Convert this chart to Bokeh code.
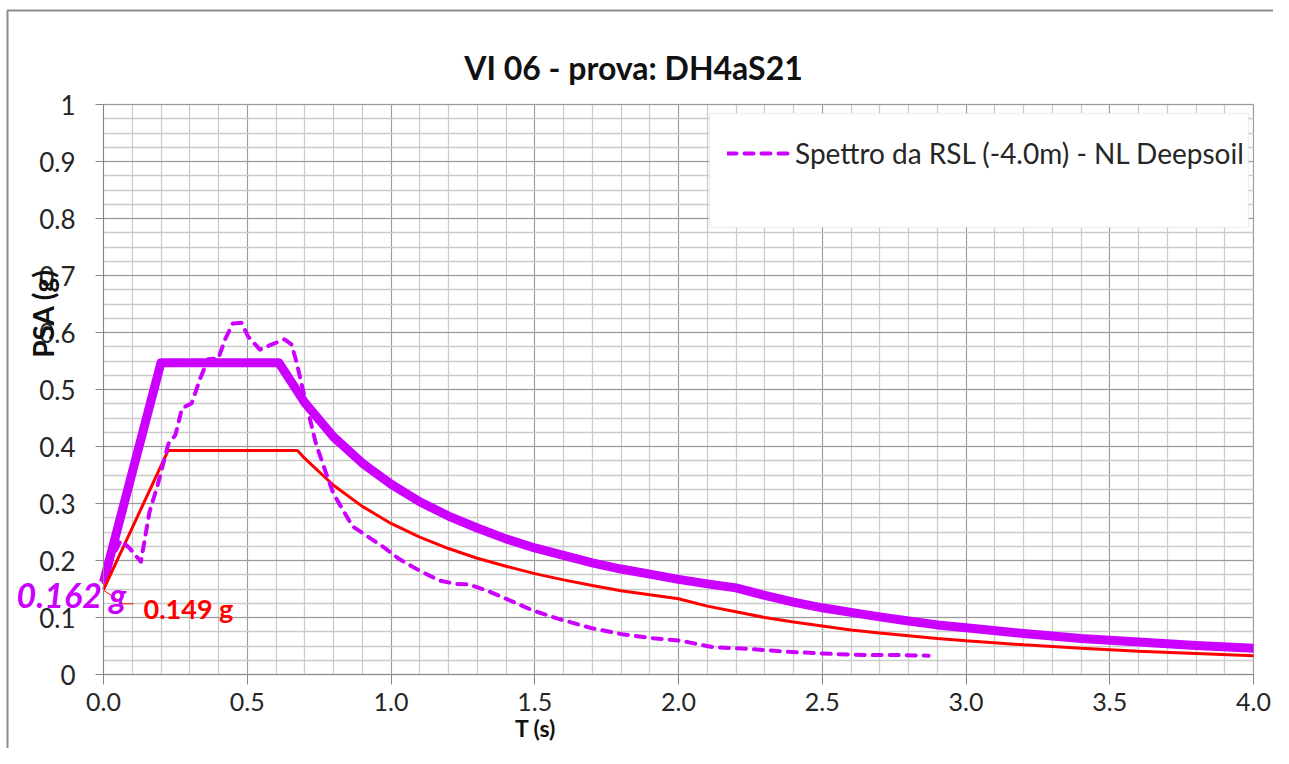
import numpy as np
from bokeh.plotting import figure
from bokeh.models import (FixedTicker, Label, Legend, LegendItem, BoxAnnotation)
from bokeh.embed import file_html
from bokeh.resources import INLINE

# ---------------- data ----------------
title_text = "VI 06 - prova: DH4aS21"
legend_label = "Spettro da RSL (-4.0m) - NL Deepsoil"
x_title = "T (s)"
y_title = "PSA (g)"
pga_thick_label = "0.162 g"
pga_red_label = "0.149 g"

# thick purple spectrum
T_thick = [0.0, 0.2, 0.61, 0.7, 0.8, 0.9, 1.0, 1.1, 1.2, 1.3, 1.4, 1.5, 1.6, 1.7, 1.8,
           1.9, 2.0, 2.1, 2.2, 2.3, 2.4, 2.5, 2.6, 2.7, 2.8, 2.9, 3.0, 3.2, 3.4, 3.6, 3.8, 4.0]
PSA_thick = [0.162, 0.547, 0.547, 0.477, 0.417, 0.371, 0.334, 0.303, 0.278, 0.257, 0.238,
             0.222, 0.209, 0.196, 0.185, 0.176, 0.167, 0.159, 0.152, 0.139, 0.127, 0.117,
             0.109, 0.101, 0.094, 0.087, 0.082, 0.072, 0.063, 0.057, 0.051, 0.046]

# red spectrum
T_red = [0.0, 0.225, 0.675, 0.7, 0.8, 0.9, 1.0, 1.1, 1.2, 1.3, 1.4, 1.5, 1.6, 1.7, 1.8,
         1.9, 2.0, 2.1, 2.2, 2.3, 2.4, 2.5, 2.6, 2.7, 2.8, 2.9, 3.0, 3.2, 3.4, 3.6, 3.8, 4.0]
PSA_red = [0.149, 0.393, 0.393, 0.379, 0.332, 0.295, 0.265, 0.241, 0.221, 0.204, 0.190,
           0.177, 0.166, 0.156, 0.147, 0.140, 0.133, 0.120, 0.110, 0.100, 0.092, 0.085,
           0.078, 0.073, 0.068, 0.063, 0.059, 0.052, 0.046, 0.041, 0.037, 0.033]

# dashed purple spectrum (RSL)
T_rsl = [0.0, 0.03, 0.06, 0.09, 0.13, 0.16, 0.187, 0.226, 0.25, 0.273, 0.307, 0.336, 0.364,
         0.40, 0.423, 0.45, 0.48, 0.503, 0.544, 0.59, 0.63, 0.654, 0.672, 0.693, 0.717,
         0.74, 0.775, 0.80, 0.866, 0.89, 0.97, 1.03, 1.10, 1.167, 1.225, 1.27, 1.33, 1.40,
         1.49, 1.58, 1.70, 1.81, 1.905, 2.01, 2.12, 2.24, 2.38, 2.49, 2.59, 2.68, 2.78, 2.87]
PSA_rsl = [0.162, 0.205, 0.235, 0.222, 0.198, 0.285, 0.33, 0.405, 0.42, 0.467, 0.476, 0.519,
           0.553, 0.555, 0.588, 0.616, 0.617, 0.593, 0.57, 0.58, 0.588, 0.579, 0.547, 0.501,
           0.45, 0.403, 0.352, 0.317, 0.26, 0.252, 0.225, 0.202, 0.182, 0.165, 0.159, 0.158,
           0.148, 0.133, 0.113, 0.098, 0.081, 0.07, 0.064, 0.059, 0.048, 0.045, 0.04, 0.037,
           0.035, 0.034, 0.034, 0.033]

x_major = [0.0, 0.5, 1.0, 1.5, 2.0, 2.5, 3.0, 3.5, 4.0]
x_labels = ["0.0", "0.5", "1.0", "1.5", "2.0", "2.5", "3.0", "3.5", "4.0"]
y_major = [0.0, 0.1, 0.2, 0.3, 0.4, 0.5, 0.6, 0.7, 0.8, 0.9, 1.0]
y_labels = ["0", "0.1", "0.2", "0.3", "0.4", "0.5", "0.6", "0.7", "0.8", "0.9", "1"]
x_minor = [round(i * 0.1, 2) for i in range(41)]
y_minor = [round(i * 0.025, 3) for i in range(41)]
X_LIM = (0.0, 4.0)
Y_LIM = (0.0, 1.0)

PURPLE = "#CC00FF"
RED = "#FF0000"
FONT = "Lato"
MAJOR_GRID = "#9a9a9a"
MINOR_GRID = "#cccccc"

# ---------------- layout ----------------
# canvas fits the 1289x764 window with its 8px page margin
W, H = 1273, 748
PX_X0, PX_X1 = 103, 1253      # pixel of x=0 and x=4
PX_Y0, PX_Y1 = 674, 104       # pixel of y=0 and y=1
sx = (PX_X1 - PX_X0) / (X_LIM[1] - X_LIM[0])
sy = (PX_Y0 - PX_Y1) / (Y_LIM[1] - Y_LIM[0])
x_range = (X_LIM[0] - PX_X0 / sx, X_LIM[0] + (W - PX_X0) / sx)
y_range = (Y_LIM[0] - (H - PX_Y0) / sy, Y_LIM[0] + PX_Y0 / sy)

def dx(px):  # pixel column -> data x
    return X_LIM[0] + (px - PX_X0) / sx

def dy(py):  # pixel row -> data y
    return Y_LIM[0] + (PX_Y0 - py) / sy

p = figure(width=W, height=H, x_range=x_range, y_range=y_range,
           output_backend="svg", toolbar_location=None, min_border=0)
p.outline_line_color = None
p.background_fill_color = "white"
p.border_fill_color = "white"

# axes fixed at the data origin
p.xaxis.fixed_location = 0.0
p.yaxis.fixed_location = 0.0
p.xaxis.bounds = X_LIM
p.yaxis.bounds = Y_LIM
p.xaxis.ticker = FixedTicker(ticks=x_major, minor_ticks=x_minor)
p.yaxis.ticker = FixedTicker(ticks=y_major, minor_ticks=y_minor)
p.xaxis.major_label_overrides = {v: s for v, s in zip(x_major, x_labels)}
p.yaxis.major_label_overrides = {v: s for v, s in zip(y_major, y_labels)}
for ax in (p.xaxis, p.yaxis):
    ax.axis_line_color = "#868686"
    ax.major_tick_line_color = "#868686"
    ax.minor_tick_in = 0
    ax.minor_tick_out = 0
    ax.major_tick_in = 0
    ax.major_label_text_font = FONT
    ax.major_label_text_font_size = "26px"
    ax.major_label_text_color = "#262626"
p.xaxis.major_label_text_font_size = "25px"
p.xaxis.major_tick_out = 10
p.yaxis.major_tick_out = 8
p.xaxis.major_label_standoff = 8
p.yaxis.major_label_standoff = 20

# grid limited to the data area
grid_ok = "cross_bounds" in p.xgrid[0].properties()
if grid_ok:
    for g, b, cb in ((p.xgrid[0], X_LIM, Y_LIM), (p.ygrid[0], Y_LIM, X_LIM)):
        g.bounds = b
        g.cross_bounds = cb
        g.grid_line_color = MAJOR_GRID
        g.minor_grid_line_color = MINOR_GRID
        g.minor_grid_line_width = 1.3
        g.level = "underlay"
else:
    p.xgrid.visible = False
    p.ygrid.visible = False
    xm = [v for v in x_minor if v not in x_major]
    ym = [v for v in y_minor if round(v, 3) not in [round(m, 3) for m in y_major]]
    p.segment(x0=xm, y0=[Y_LIM[0]] * len(xm), x1=xm, y1=[Y_LIM[1]] * len(xm),
              line_color=MINOR_GRID, line_width=1.3, level="underlay")
    p.segment(x0=[X_LIM[0]] * len(ym), y0=ym, x1=[X_LIM[1]] * len(ym), y1=ym,
              line_color=MINOR_GRID, line_width=1.3, level="underlay")
    p.segment(x0=x_major, y0=[Y_LIM[0]] * len(x_major), x1=x_major, y1=[Y_LIM[1]] * len(x_major),
              line_color=MAJOR_GRID, line_width=1, level="underlay")
    p.segment(x0=[X_LIM[0]] * len(y_major), y0=y_major, x1=[X_LIM[1]] * len(y_major), y1=y_major,
              line_color=MAJOR_GRID, line_width=1, level="underlay")

# outer chart border (only its top and left edges are in view)
p.line([dx(7), dx(7), dx(W + 40)], [dy(H + 40), dy(10), dy(10)],
       line_color="#8c8c8c", line_width=2)

# lines
r_thick = p.line(T_thick, PSA_thick, line_color=PURPLE, line_width=9, line_join="round")
r_red = p.line(T_red, PSA_red, line_color=RED, line_width=3)
r_rsl = p.line(T_rsl, PSA_rsl, line_color=PURPLE, line_width=4, line_dash="9 8",
               line_cap="round", line_join="round")

# leader line for red annotation
lead_x = [0.0, 0.069, 0.104]
lead_y = [0.148, 0.124, 0.124]
p.line(lead_x, lead_y, line_color=RED, line_width=1)

# legend box + legend
box = BoxAnnotation(left=dx(709), right=dx(1248), bottom=dy(227), top=dy(113),
                    fill_color="white", fill_alpha=1.0, line_color="#d0d0d0", line_width=1.5)
p.add_layout(box)
legend = Legend(items=[LegendItem(label=legend_label, renderers=[r_rsl])],
                location=(727, H - 170), padding=0, margin=0, spacing=0,
                glyph_width=64, glyph_height=30, label_height=30, label_standoff=4,
                background_fill_alpha=0, border_line_color=None,
                label_text_font=FONT, label_text_font_size="28px", label_text_color="#262626")
p.add_layout(legend)

# texts
p.add_layout(Label(x=dx(633), y=dy(67), text=title_text, text_font=FONT, text_font_style="bold",
                   text_font_size="32px", text_align="center", text_baseline="middle",
                   text_color="#111111"))
p.add_layout(Label(x=dx(42), y=dy(313), text=y_title, angle=np.pi / 2, text_font=FONT,
                   text_font_style="bold", text_font_size="28px", text_align="center",
                   text_baseline="middle", text_color="#111111"))
p.add_layout(Label(x=dx(535), y=dy(727), text=x_title, text_font=FONT, text_font_style="bold",
                   text_font_size="23px", text_align="center", text_baseline="middle",
                   text_color="#111111"))
p.add_layout(Label(x=dx(16), y=dy(594), text=pga_thick_label, text_font=FONT,
                   text_font_style="bold italic", text_font_size="34px", text_align="left",
                   text_baseline="middle", text_color=PURPLE))
p.add_layout(Label(x=dx(143), y=dy(608), text=pga_red_label, text_font=FONT, text_font_style="bold",
                   text_font_size="27px", text_align="left", text_baseline="middle",
                   text_color=RED))

open("out.html", "w").write(file_html(p, INLINE))
